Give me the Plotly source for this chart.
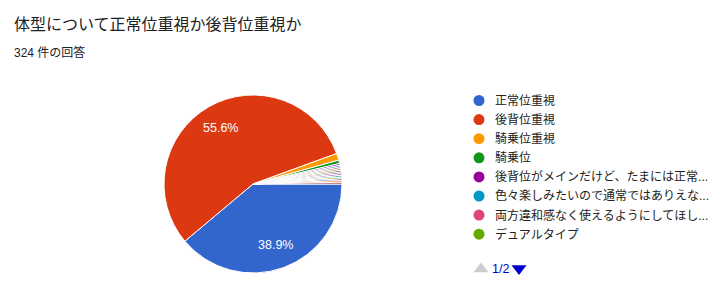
import math
import plotly.graph_objects as go

# Survey responses (324 in total)
labels = [
    "正常位重視",
    "後背位重視",
    "騎乗位重視",
    "騎乗位",
    "後背位がメインだけど、たまには正常...",
    "色々楽しみたいので通常ではありえな...",
    "両方違和感なく使えるようにしてほし...",
    "デュアルタイプ",
    "その他 1", "その他 2", "その他 3", "その他 4",
    "その他 5", "その他 6", "その他 7", "その他 8",
]
counts = [126, 180, 4, 2, 1, 1, 1, 1, 1, 1, 1, 1, 1, 1, 1, 1]
colors = [
    "#3366cc", "#dc3912", "#ff9900", "#109618", "#990099", "#0099c6",
    "#dd4477", "#66aa00", "#b82e2e", "#316395", "#994499", "#22aa99",
    "#aaaa11", "#6633cc", "#e67300", "#8b0707",
]
title_text = "体型について正常位重視か後背位重視か"
subtitle_text = "324 件の回答"
page_text = "1/2"
legend_page_size = 8

W, H = 720, 307
FONT = "Liberation Sans, Arial, 'Noto Sans CJK JP', sans-serif"

# Pie placement in pixels; slices start at 3 o'clock and run clockwise
cx, cy, r = 253, 184, 89
start_deg = 90
label_radius = 0.73 * r

total = sum(counts)

fig = go.Figure()
fig.add_trace(go.Pie(
    labels=labels,
    values=counts,
    sort=False,
    direction="clockwise",
    rotation=start_deg,
    marker=dict(colors=colors, line=dict(color="white", width=1)),
    textinfo="none",
    domain=dict(x=[(cx - r) / W, (cx + r) / W], y=[1 - (cy + r) / H, 1 - (cy - r) / H]),
    showlegend=False,
    hoverinfo="label+value+percent",
))

annotations = []

# Percentage labels on the larger slices, placed along each slice's mid-angle
acc = 0
for c in counts:
    share = c / total
    mid = math.radians(start_deg + 360 * (acc + c / 2) / total)
    acc += c
    if share < 0.05:
        continue
    annotations.append(dict(
        x=cx + label_radius * math.sin(mid), y=cy - label_radius * math.cos(mid),
        xref="x", yref="y", text="%.1f%%" % (100 * share), showarrow=False,
        xanchor="center", yanchor="middle",
        font=dict(size=12.5, color="white", family=FONT),
    ))

# Legend (first page) drawn in pixel space
lx, ly0, dy = 479, 100.5, 19.1
shown = list(range(legend_page_size))
fig.add_trace(go.Scatter(
    x=[lx] * len(shown),
    y=[ly0 + dy * i for i in shown],
    mode="markers",
    marker=dict(size=11, color=[colors[i] for i in shown], line=dict(width=0)),
    hoverinfo="skip",
    showlegend=False,
))
for i in shown:
    annotations.append(dict(
        x=lx + 14, y=ly0 + dy * i, xref="x", yref="y",
        text=labels[i], showarrow=False, xanchor="left", yanchor="middle",
        font=dict(size=12, color="#222222", family=FONT),
    ))

# Legend pager
fig.add_trace(go.Scatter(
    x=[481, 519], y=[269, 268.5],
    mode="markers",
    marker=dict(symbol=["triangle-up", "triangle-down"], size=13,
                color=["#cccccc", "#0000cc"], line=dict(width=0)),
    hoverinfo="skip",
    showlegend=False,
))
annotations.append(dict(
    x=500, y=269, xref="x", yref="y", text=page_text, showarrow=False,
    xanchor="center", yanchor="middle",
    font=dict(size=12.5, color="#0000cc", family=FONT),
))

# Title and response count
annotations.append(dict(
    x=12, y=24, xref="x", yref="y", text=title_text, showarrow=False,
    xanchor="left", yanchor="middle",
    font=dict(size=16, color="#202124", family=FONT),
))
annotations.append(dict(
    x=12, y=52, xref="x", yref="y", text=subtitle_text, showarrow=False,
    xanchor="left", yanchor="middle",
    font=dict(size=12, color="#202124", family=FONT),
))

fig.update_layout(
    width=W, height=H,
    margin=dict(l=0, r=0, t=0, b=0),
    paper_bgcolor="white", plot_bgcolor="rgba(0,0,0,0)",
    xaxis=dict(range=[0, W], visible=False, fixedrange=True),
    yaxis=dict(range=[H, 0], visible=False, fixedrange=True),
    annotations=annotations,
    showlegend=False,
)

fig.write_html("out.html")
